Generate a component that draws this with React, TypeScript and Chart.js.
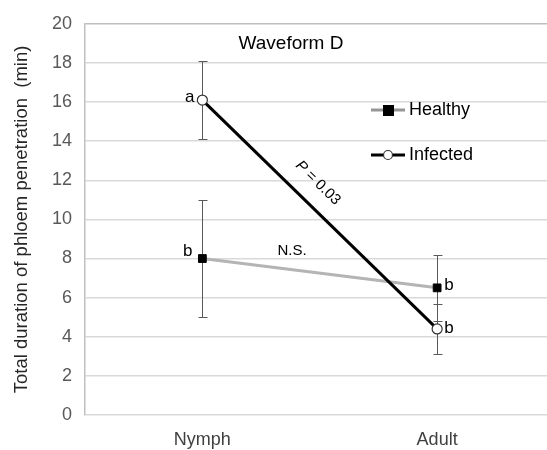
import React, { useEffect, useRef } from "react";
import { Chart, registerables } from "chart.js";

Chart.register(...registerables);

const categories = ["Nymph", "Adult"];
const healthy = [8.0, 6.5];
const healthyErr = [3.0, 1.7];
const infected = [16.1, 4.4];
const infectedErr = [2.0, 1.3];
const healthyLetters = ["b", "b"];
const infectedLetters = ["a", "b"];
const yTicks = [0, 2, 4, 6, 8, 10, 12, 14, 16, 18, 20];

const FONT = "'Liberation Sans', Arial, sans-serif";

const annotPlugin = {
  id: "annot",
  beforeDatasetsDraw(chart: any) {
    const ctx = chart.ctx;
    const y = chart.scales.y;
    ctx.save();
    ctx.strokeStyle = "#595959";
    ctx.lineWidth = 1;
    chart.data.datasets.forEach((ds: any, di: number) => {
      const meta = chart.getDatasetMeta(di);
      const errs = ds.errs as number[];
      meta.data.forEach((pt: any, i: number) => {
        const v = ds.data[i];
        const x = Math.round(pt.x) + 0.5;
        const yt = Math.round(y.getPixelForValue(v + errs[i])) + 0.5;
        const yb = Math.round(y.getPixelForValue(v - errs[i])) + 0.5;
        ctx.beginPath();
        ctx.moveTo(x, yt);
        ctx.lineTo(x, yb);
        ctx.moveTo(x - 4, yt);
        ctx.lineTo(x + 5, yt);
        ctx.moveTo(x - 4, yb);
        ctx.lineTo(x + 5, yb);
        ctx.stroke();
      });
    });
    ctx.restore();
  },
  afterDraw(chart: any) {
    const ctx = chart.ctx;
    const x = chart.scales.x;
    const y = chart.scales.y;
    ctx.save();
    ctx.fillStyle = "#000";
    ctx.textBaseline = "middle";
    // title
    ctx.font = `19px ${FONT}`;
    ctx.textAlign = "center";
    ctx.fillText("Waveform D", 291, 44);

    // significance letters
    ctx.font = `17px ${FONT}`;
    const x0 = x.getPixelForValue(0);
    const x1 = x.getPixelForValue(1);
    ctx.textAlign = "right";
    ctx.fillText(infectedLetters[0], x0 - 8, y.getPixelForValue(infected[0]) - 3);
    ctx.fillText(healthyLetters[0], x0 - 10, y.getPixelForValue(healthy[0]) - 7);
    ctx.textAlign = "left";
    ctx.fillText(healthyLetters[1], x1 + 7, y.getPixelForValue(healthy[1]) - 3);
    ctx.fillText(infectedLetters[1], x1 + 7, y.getPixelForValue(infected[1]) - 1);

    // N.S.
    ctx.font = `15px ${FONT}`;
    ctx.textAlign = "center";
    ctx.fillText("N.S.", 292, 251);

    // P = 0.03 rotated along infected line
    const px0 = x0, py0 = y.getPixelForValue(infected[0]);
    const px1 = x1, py1 = y.getPixelForValue(infected[1]);
    const ang = Math.atan2(py1 - py0, px1 - px0);
    ctx.translate(318, 183);
    ctx.rotate(ang);
    ctx.textAlign = "left";
    ctx.font = `italic 15px ${FONT}`;
    const pw = ctx.measureText("P").width;
    ctx.font = `15px ${FONT}`;
    const rest = " = 0.03";
    const rw = ctx.measureText(rest).width;
    const start = -(pw + rw) / 2;
    ctx.font = `italic 15px ${FONT}`;
    ctx.fillText("P", start, 0);
    ctx.font = `15px ${FONT}`;
    ctx.fillText(rest, start + pw, 0);
    ctx.setTransform(1, 0, 0, 1, 0, 0);

    // legend
    const items = [
      { label: "Healthy", line: "#969696", y: 110, square: true },
      { label: "Infected", line: "#000", y: 155, square: false },
    ];
    items.forEach((it) => {
      ctx.strokeStyle = it.line;
      ctx.lineWidth = 3;
      ctx.beginPath();
      ctx.moveTo(371, it.y);
      ctx.lineTo(405, it.y);
      ctx.stroke();
      if (it.square) {
        ctx.fillStyle = "#000";
        ctx.fillRect(383, it.y - 5, 11, 11);
      } else {
        ctx.fillStyle = "#fff";
        ctx.strokeStyle = "#333";
        ctx.lineWidth = 1.2;
        ctx.beginPath();
        ctx.arc(388, it.y, 4.5, 0, Math.PI * 2);
        ctx.fill();
        ctx.stroke();
      }
      ctx.fillStyle = "#000";
      ctx.font = `18px ${FONT}`;
      ctx.textAlign = "left";
      ctx.fillText(it.label, 409, it.y);
    });
    ctx.restore();
  },
};

export default function App() {
  const ref = useRef<HTMLCanvasElement>(null);
  useEffect(() => {
    if (!ref.current) return;
    const chart = new Chart(ref.current, {
      type: "line",
      data: {
        labels: categories,
        datasets: [
          {
            label: "Healthy",
            data: healthy,
            errs: healthyErr,
            borderColor: "#b4b4b4",
            borderWidth: 3,
            pointStyle: "rect",
            pointRadius: 5.5,
            pointBackgroundColor: "#000",
            pointBorderColor: "#000",
            pointBorderWidth: 1,
            order: 1,
          } as any,
          {
            label: "Infected",
            data: infected,
            errs: infectedErr,
            borderColor: "#000",
            borderWidth: 3,
            pointStyle: "circle",
            pointRadius: 5,
            pointBackgroundColor: "#fff",
            pointBorderColor: "#333",
            pointBorderWidth: 1.2,
            order: 0,
          } as any,
        ],
      },
      options: {
        animation: false,
        responsive: false,
        maintainAspectRatio: false,
        layout: { padding: { top: 17, left: 0, right: 0, bottom: 0 } },
        plugins: { legend: { display: false }, tooltip: { enabled: false } },
        scales: {
          x: {
            type: "category",
            offset: true,
            grid: { display: false, drawTicks: false },
            border: { display: false },
            ticks: { color: "#404040", font: { family: FONT, size: 18 }, padding: 14 },
            afterFit: (s: any) => { s.height = 35; },
          },
          y: {
            min: 0,
            max: 20,
            afterBuildTicks: (s: any) => { s.ticks = yTicks.map((v) => ({ value: v })); },
            grid: {
              color: (c: any) => (c.tick && c.tick.value === 20 ? "#bfbfbf" : "#d9d9d9"),
              lineWidth: 1.5,
              drawTicks: false,
            },
            border: { display: true, color: "#bfbfbf", width: 1.5 },
            ticks: { color: "#595959", font: { family: FONT, size: 18 }, padding: 13 },
            title: {
              display: true,
              text: "Total duration of phloem penetration  (min)",
              color: "#262626",
              font: { family: FONT, size: 18.5 },
              padding: { top: 11, bottom: 0 },
            },
            afterFit: (s: any) => { s.width = 85; },
          },
        },
      },
      plugins: [annotPlugin],
    } as any);
    return () => chart.destroy();
  }, []);
  return (
    <div style={{ position: "fixed", left: 0, top: 0, width: 547, height: 450, overflow: "hidden", background: "#fff" }}>
      <canvas ref={ref} width={561} height={450} style={{ display: "block" }} />
    </div>
  );
}
